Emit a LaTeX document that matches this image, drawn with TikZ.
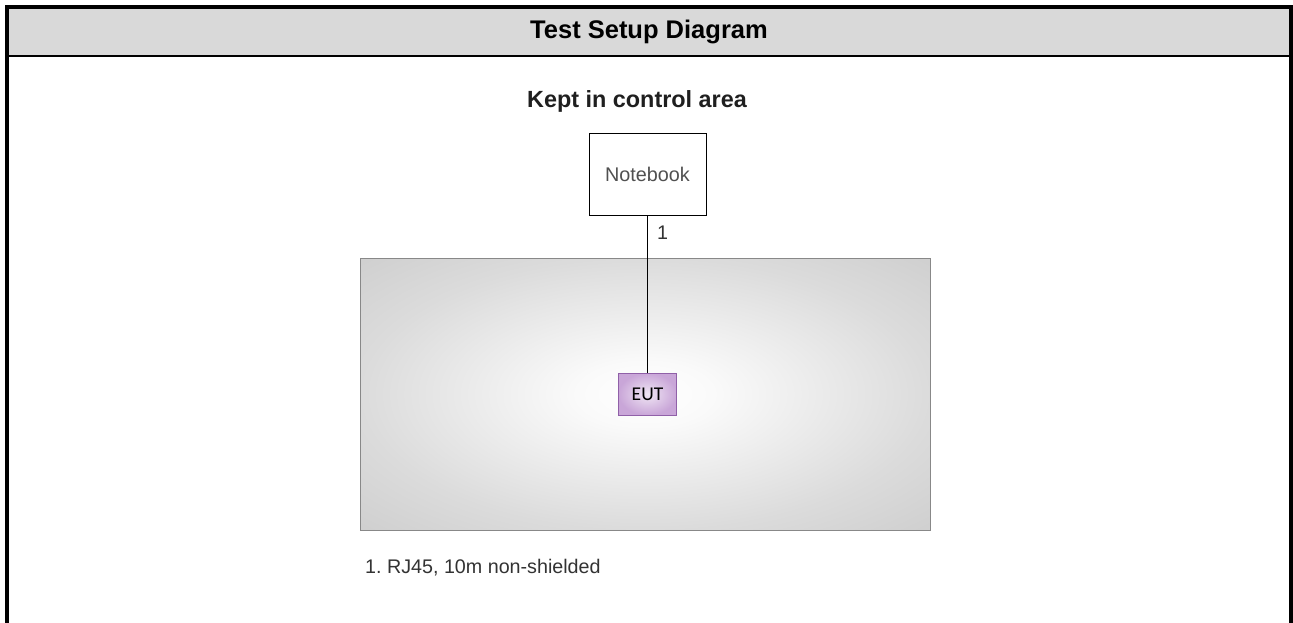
\documentclass[tikz,border=0pt]{standalone}
\usepackage{fontspec}
\setmainfont{Liberation Sans}
\newfontfamily\eutfont{Carlito}
\frenchspacing
\definecolor{hdr}{HTML}{D9D9D9}
\definecolor{zoneline}{HTML}{888888}
\definecolor{eutin}{HTML}{F0E6F4}
\definecolor{eutout}{HTML}{C9A6D8}
\definecolor{eutline}{HTML}{9060A8}
\definecolor{txt}{HTML}{333333}
\definecolor{nbtxt}{HTML}{505050}
\pgfdeclareradialshading{zoneshade}{\pgfpoint{0bp}{0bp}}{%
  color(0bp)=(white); color(6bp)=(white!98!black); color(25bp)=(black!14); color(36bp)=(black!19); color(50bp)=(black!19)}
\begin{document}
\begin{tikzpicture}[x=1pt,y=-1pt,
  devbox/.style={draw=black,line width=1pt,minimum width=117pt,minimum height=81pt,inner sep=0pt,font=\fontsize{19.8}{23}\selectfont,text=nbtxt},
  eutbox/.style={draw=eutline,line width=1pt,inner color=eutin,outer color=eutout,minimum width=58pt,minimum height=42pt,inner sep=0pt,font=\eutfont\fontsize{19.5}{23}\selectfont,text=black},
  zone/.style={draw=zoneline,line width=1pt,shading=zoneshade},
  cable/.style={draw=black,line width=1pt},
  lbl/.style={font=\fontsize{19.7}{23}\selectfont,text=txt,inner sep=0pt}]
\useasboundingbox (0,0) rectangle (1293,623);
\fill[white] (0,0) rectangle (1293,623);
% header
\fill[hdr] (7,7) rectangle (1291,56);
\draw[line width=4pt] (7,623) -- (7,7) -- (1291,7) -- (1291,623);
\draw[line width=2.5pt] (7,56) -- (1291,56);
\node[font=\bfseries\fontsize{25.5}{30}\selectfont,inner sep=0pt] (title) at (649,32) {Test Setup Diagram};
% zone
\shade[zone] (360,258) rectangle (930,530);
\node[font=\bfseries\fontsize{23.4}{28}\selectfont,text=black!88,inner sep=0pt] (zonelbl) at (637,101) {Kept in control area};
% devices
\node[devbox] (nb) at (647.5,174.5) {Notebook};
\node[eutbox] (eut) at (647.5,394) {EUT};
\draw[cable] (nb.south) -- (eut.north) node[lbl,pos=0.108,anchor=west,xshift=9pt] (c1) {1};
% note
\node[lbl,anchor=west] (note) at (365,568) {1. RJ45, 10m non-shielded};
\end{tikzpicture}
\end{document}
